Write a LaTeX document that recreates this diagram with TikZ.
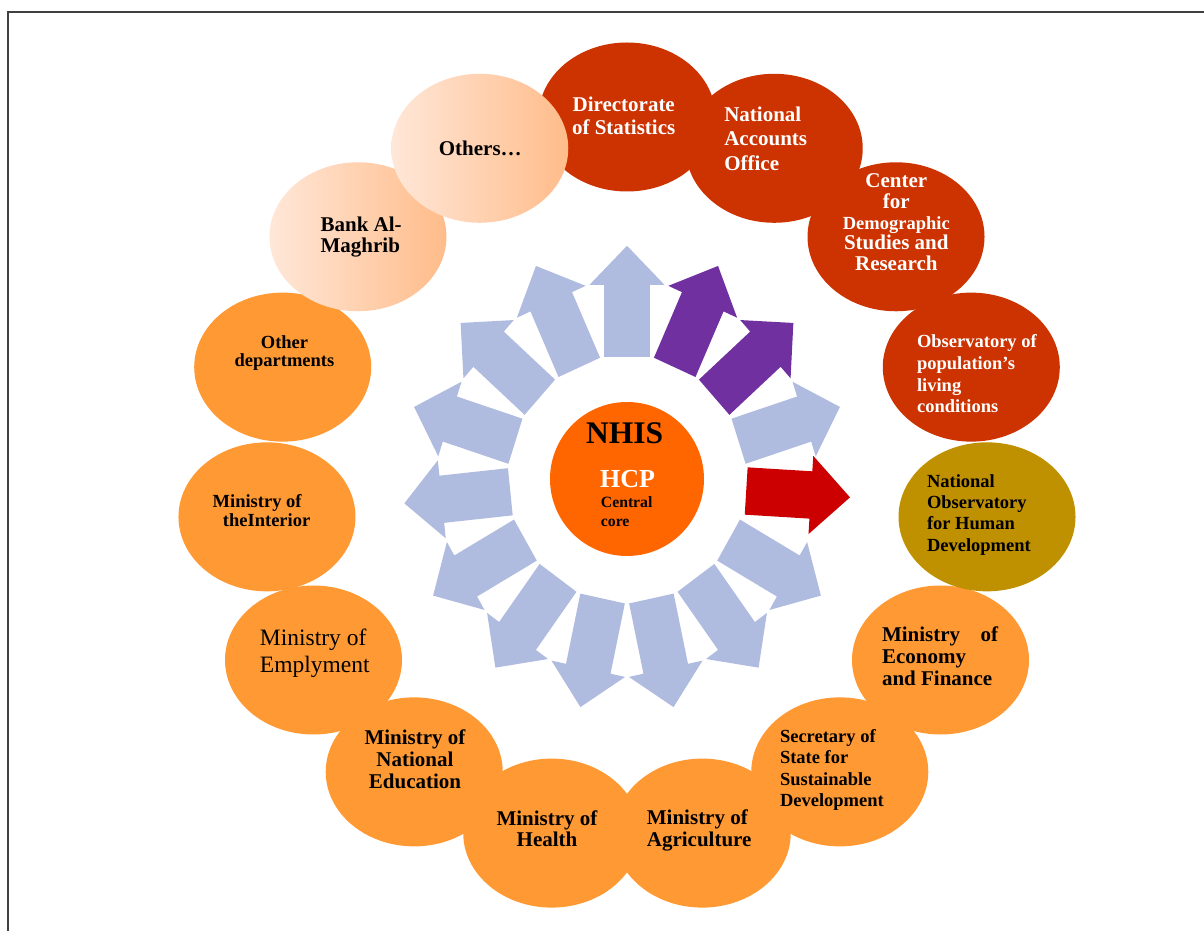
\documentclass[tikz,border=0pt]{standalone}
\usepackage{fontspec}
\setmainfont{Liberation Serif}
\usetikzlibrary{shapes.geometric, shapes.arrows}

\definecolor{hcpred}{RGB}{204,51,0}
\definecolor{minorange}{RGB}{255,153,51}
\definecolor{ondhgold}{RGB}{191,144,0}
\definecolor{peachlight}{RGB}{255,231,216}
\definecolor{peachdark}{RGB}{255,188,138}
\definecolor{spokeblue}{RGB}{175,187,223}
\definecolor{spokepurple}{RGB}{112,48,160}
\definecolor{spokered}{RGB}{204,0,0}
\definecolor{coreorange}{RGB}{255,102,0}

\begin{document}
\begin{tikzpicture}[x=1pt, y=1pt,
    unit/.style={ellipse, minimum width=177pt, minimum height=149pt, inner sep=0pt},
    link/.style={single arrow, single arrow tip angle=90, single arrow head extend=15.5pt,
                 minimum height=111pt, inner xsep=0pt, inner ysep=23.5pt, anchor=tail, fill=spokeblue},
    big/.style={inner sep=0pt, font=\bfseries\fontsize{21}{22.3}\selectfont},
    mid/.style={inner sep=0pt, font=\bfseries\fontsize{18.5}{21.2}\selectfont}]

\useasboundingbox (-627,-452) rectangle (577,479);
\draw[black!75, line width=1.5pt] (-619,-452) -- (-619,467) -- (577,467);

% Spokes from the central core
\begin{scope}[xscale=0.96, transform shape]
\node[link, rotate=90] (link1) at (90:122) {};
\node[link, rotate=66, fill=spokepurple] (link2) at (66:122) {};
\node[link, rotate=42, fill=spokepurple] (link3) at (42:122) {};
\node[link, rotate=18] (link4) at (18:122) {};
\node[link, rotate=-30] (link6) at (-30:122) {};
\node[link, rotate=-54] (link7) at (-54:122) {};
\node[link, rotate=-78] (link8) at (-78:122) {};
\node[link, rotate=-102] (link9) at (-102:122) {};
\node[link, rotate=-126] (link10) at (-126:122) {};
\node[link, rotate=-150] (link11) at (-150:122) {};
\node[link, rotate=-174] (link12) at (-174:122) {};
\node[link, rotate=162] (link13) at (162:122) {};
\node[link, rotate=138] (link14) at (138:122) {};
\node[link, rotate=114] (link15) at (114:122) {};
\end{scope}
\node[link, rotate=-3.5, minimum height=104pt, fill=spokered] (link5) at (119,-12) {};

% Central core
\node[circle, fill=coreorange, minimum size=154pt, inner sep=0pt] (core) at (0,0) {};
\node[inner sep=0pt, font=\bfseries\fontsize{31.5}{32}\selectfont] (nhis) at (-2.3,45.5) {NHIS};
\node[inner sep=0pt, text=white, font=\bfseries\fontsize{26}{26}\selectfont] (hcp) at (0.5,-0.1) {HCP};
\node[inner sep=0pt, align=left, font=\bfseries\fontsize{15.7}{18.7}\selectfont] (central) at (-0.3,-32.3) {Central\\core};

% Ministries
\node[unit, fill=minorange] (unit6) at (-30:362) {};
\node[unit, fill=minorange] (unit7) at (-54:362) {};
\node[unit, fill=minorange] (unit8) at (-78:362) {};
\node[unit, fill=minorange] (unit9) at (-102:362) {};
\node[unit, fill=minorange] (unit10) at (-126:362) {};
\node[unit, fill=minorange] (unit11) at (-150:362) {};
\node[unit, fill=minorange] (unit12) at (-174:362) {};
\node[unit, fill=minorange] (unit13) at (162:362) {};

% HCP directorates
\node[unit, fill=hcpred] (unit1) at (90:362) {};
\node[unit, fill=hcpred] (unit2) at (66:362) {};
\node[unit, fill=hcpred] (unit3) at (42:362) {};
\node[unit, fill=hcpred] (unit4) at (18:362) {};
\node[unit, fill=ondhgold] (unit5) at (-6:362) {};

% Other partners
\node[unit, left color=peachlight, right color=peachdark] (unit14) at (138:362) {};
\node[unit, left color=peachlight, right color=peachdark] (unit15) at (114:362) {};

% Texts
\node[big, text=white, align=center] (title1) at (-3.3,363.3) {Directorate\\of Statistics};
\node[big, text=white, align=left, font=\bfseries\fontsize{21}{24.5}\selectfont] (title2) at (138.7,340.6) {National\\Accounts\\Office};
\node[big, text=white, align=center, font=\bfseries\fontsize{21}{20.75}\selectfont] (title3) at (269.3,256.8)
    {Center\\for\\{\fontsize{18.5}{20.75}\selectfont Demographic}\\Studies and\\Research};
\node[mid, text=white, align=left, font=\bfseries\fontsize{18.5}{21.7}\selectfont] (title4) at (349.9,105.1)
    {Observatory of\\population’s\\living\\conditions};
\node[mid, align=left, font=\bfseries\fontsize{18.5}{21.1}\selectfont] (title5) at (351.9,-36)
    {National\\Observatory\\for Human\\Development};
\node[big, align=left, font=\bfseries\fontsize{21}{22}\selectfont] (title6) at (313,-176.9)
    {\makebox[116pt][s]{Ministry of}\\Economy\\and Finance};
\node[mid, align=left] (title7) at (204.9,-290.9) {Secretary of\\State for\\Sustainable\\Development};
\node[big, align=left, font=\bfseries\fontsize{21}{22.4}\selectfont] (title8) at (72.2,-351.7) {Ministry of\\Agriculture};
\node[big, align=center, font=\bfseries\fontsize{21}{21}\selectfont] (title9) at (-80,-350) {Ministry of\\Health};
\node[big, align=center, font=\bfseries\fontsize{21}{22}\selectfont] (title10) at (-212,-279.9) {Ministry of\\National\\Education};
\node[inner sep=0pt, align=left, font=\fontsize{23.5}{27}\selectfont] (title11) at (-312.2,-174) {Ministry of\\Emplyment};
\node[mid, align=left, font=\bfseries\fontsize{18.5}{19}\selectfont] (title12) at (-365.5,-31.9) {Ministry of\\\hspace*{10.3pt}theInterior};
\node[mid, align=center, font=\bfseries\fontsize{18.5}{17.7}\selectfont] (title13) at (-342.5,126.1) {Other\\departments};
\node[big, align=left, font=\bfseries\fontsize{21}{20.6}\selectfont] (title14) at (-265.8,241.9) {Bank Al-\\Maghrib};
\node[big] (title15) at (-146.7,331.1) {Others…};

\end{tikzpicture}
\end{document}
